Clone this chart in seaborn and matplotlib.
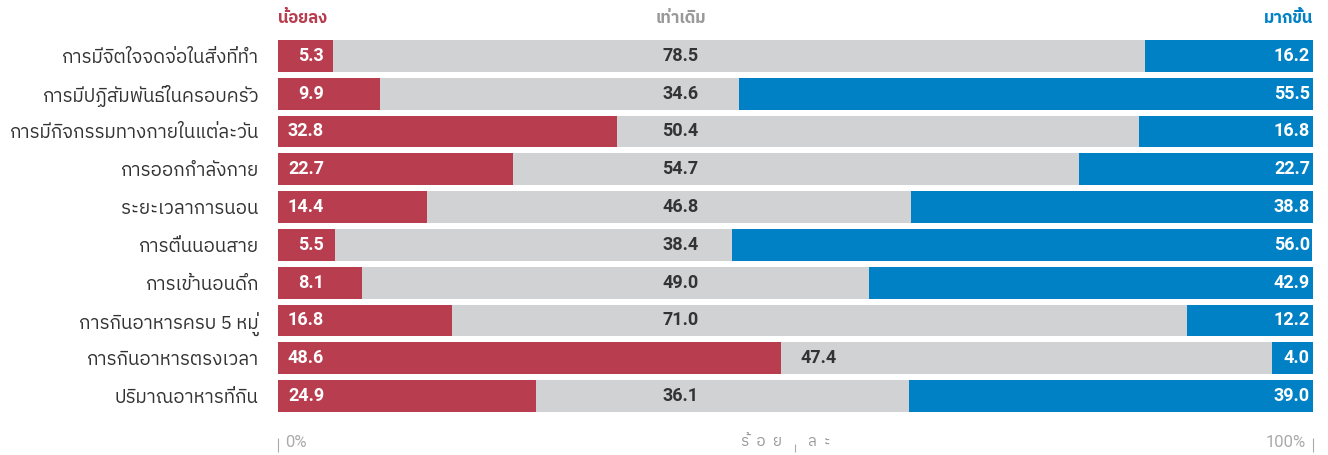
import pandas as pd
import matplotlib.pyplot as plt
import seaborn as sns

# data (percent)
categories = ['การมีจิตใจจดจ่อในสิ่งที่ทำ', 'การมีปฏิสัมพันธ์ในครอบครัว', 'การมีกิจกรรมทางกายในแต่ละวัน',
              'การออกกำลังกาย', 'ระยะเวลาการนอน', 'การตื่นนอนสาย', 'การเข้านอนดึก',
              'การกินอาหารครบ 5 หมู่', 'การกินอาหารตรงเวลา', 'ปริมาณอาหารที่กิน']
less = [5.3, 9.9, 32.8, 22.7, 14.4, 5.5, 8.1, 16.8, 48.6, 24.9]
same = [78.5, 34.6, 50.4, 54.7, 46.8, 38.4, 49.0, 71.0, 47.4, 36.1]
more = [16.2, 55.5, 16.8, 22.7, 38.8, 56.0, 42.9, 12.2, 4.0, 39.0]

df = pd.DataFrame({'cat': categories, 'less': less, 'same': same, 'more': more})
df['less_same'] = df['less'] + df['same']
df['total'] = df['less_same'] + df['more']

RED = '#B83E4F'
GREY = '#D1D2D4'
BLUE = '#0081C6'

sns.set_theme(style='white')
THAI = ['IBM Plex Sans Thai', 'Sarabun', 'Noto Sans Thai', 'DejaVu Sans']
NUM = ['Roboto', 'DejaVu Sans']
plt.rcParams['font.family'] = THAI

fig = plt.figure(figsize=(13.28, 4.55), dpi=100)
ax = fig.add_axes([0.2093, 0.088, 0.7794, 0.8307])

# stacked bars: draw full length first, then overlay
sns.barplot(data=df, x='total', y='cat', color=BLUE, width=0.84, saturation=1, ax=ax, orient='h')
sns.barplot(data=df, x='less_same', y='cat', color=GREY, width=0.84, saturation=1, ax=ax, orient='h')
sns.barplot(data=df, x='less', y='cat', color=RED, width=0.84, saturation=1, ax=ax, orient='h')
for p in ax.patches:
    p.set_edgecolor('none')

for i, r in df.iterrows():
    ax.text(4.45, i, f'{r.less:.1f}', ha='right', va='center', color='white',
            fontsize=13, fontweight='bold', family=NUM)
    if r.less > 35:
        ax.text(r.less + 1.9, i, f'{r.same:.1f}', ha='left', va='center', color='#333333',
                fontsize=13, fontweight='bold', family=NUM)
    else:
        ax.text(38.9, i, f'{r.same:.1f}', ha='center', va='center', color='#333333',
                fontsize=13, fontweight='bold', family=NUM)
    ax.text(99.7, i, f'{r.more:.1f}', ha='right', va='center', color='white',
            fontsize=13, fontweight='bold', family=NUM)

ax.set_xlim(0, 100)
ax.set_ylim(9.5, -0.5)
ax.set_xlabel('')
ax.set_ylabel('')
ax.tick_params(axis='y', length=0, pad=14, labelsize=13.5, labelcolor='#333333')
sns.despine(ax=ax, left=True, top=True, right=True)
ax.spines['bottom'].set_position(('outward', 27))
ax.spines['bottom'].set_color('none')
ax.set_xticks([0, 100])
ax.set_xticks([50], minor=True)
ax.set_xticklabels([])
ax.tick_params(axis='x', which='major', length=10, width=0.8, color='#aaaaaa', direction='in', bottom=True)
ax.tick_params(axis='x', which='minor', length=6, width=0.8, color='#aaaaaa', direction='in', bottom=True)

# headers
ax.text(0, 1.05, 'น้อยลง', transform=ax.transAxes, ha='left', va='center',
        color=RED, fontsize=12, fontweight='bold')
ax.text(0.389, 1.05, 'เท่าเดิม', transform=ax.transAxes, ha='center', va='center',
        color='#999999', fontsize=12, fontweight='bold')
ax.text(1, 1.05, 'มากขึ้น', transform=ax.transAxes, ha='right', va='center',
        color=BLUE, fontsize=12, fontweight='bold')

# bottom axis texts
ax.text(0.007, -0.072, '0%', transform=ax.transAxes, ha='left', va='center',
        color='#aaaaaa', fontsize=12, family=NUM)
ax.text(0.993, -0.072, '100%', transform=ax.transAxes, ha='right', va='center',
        color='#aaaaaa', fontsize=12, family=NUM)
ax.text(0.487, -0.072, 'ร้  อ  ย', transform=ax.transAxes, ha='right', va='center',
        color='#999999', fontsize=11)
ax.text(0.512, -0.072, 'ล  ะ', transform=ax.transAxes, ha='left', va='center',
        color='#999999', fontsize=11)

fig.savefig('out.png', dpi=100)
